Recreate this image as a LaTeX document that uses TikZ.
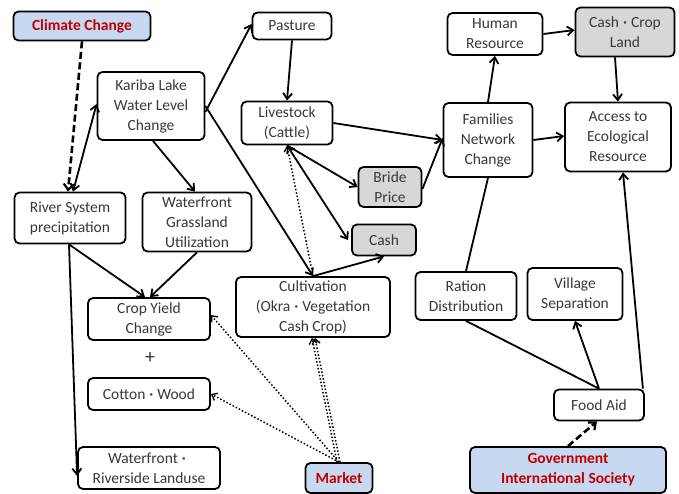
\documentclass[tikz,border=0pt]{standalone}
\usepackage{fontspec}
\setmainfont{Carlito}
\newfontfamily\cjk{Noto Sans CJK JP}
\newcommand{\kdot}{{\cjk\fontsize{12}{12}\selectfont ・}}
\usetikzlibrary{arrows.meta}
\definecolor{blueF}{RGB}{198,217,241}
\definecolor{grayF}{RGB}{215,215,215}
\definecolor{redT}{RGB}{192,0,0}
\tikzset{
  box/.style={draw=black, line width=1.8pt, rounded corners=5pt, fill=white, align=center, inner sep=0pt, font=\fontsize{15.5}{20}\selectfont, text=black!78},
  graybox/.style={box, fill=grayF},
  bluebox/.style={box, fill=blueF, text=redT, font=\fontsize{15.5}{20}\selectfont\bfseries},
  arr/.style={line width=1.8pt, -{Straight Barb[length=6pt,width=9pt,line width=1.8pt]}},
  darr/.style={arr, {Straight Barb[length=6pt,width=9pt,line width=1.8pt]}-{Straight Barb[length=6pt,width=9pt,line width=1.8pt]}},
  ln/.style={line width=1.8pt},
  dsh/.style={line width=2.6pt, dash pattern=on 7pt off 3.5pt, -{Straight Barb[length=6pt,width=10pt,line width=2.2pt]}},
  dot/.style={line width=1.5pt, dotted, -{Straight Barb[length=5pt,width=8pt,line width=1.3pt]}}
}
\begin{document}
\begin{tikzpicture}[x=1pt,y=-1pt]
\fill[white] (0,0) rectangle (679,494);
\useasboundingbox (0,0) rectangle (679,494);
% nodes
\node[bluebox, minimum width=137pt, minimum height=29pt] (cc) at (82,26) {Climate Change};
\node[box, minimum width=79pt, minimum height=27pt] (pas) at (292,26) {Pasture};
\node[box, minimum width=107pt, minimum height=68pt] (kar) at (151,106) {Kariba Lake\\Water Level\\Change};
\node[box, minimum width=91pt, minimum height=43pt] (liv) at (287,123) {Livestock\\(Cattle)};
\node[box, minimum width=95pt, minimum height=42pt] (hum) at (495,34) {Human\\Resource};
\node[graybox, minimum width=99pt, minimum height=49pt] (ccl) at (625,32) {Cash\kdot Crop\\Land};
\node[box, minimum width=89pt, minimum height=74pt] (fam) at (488,140) {Families\\Network\\Change};
\node[box, minimum width=106pt, minimum height=69pt] (acc) at (618,137) {Access to\\Ecological\\Resource};
\node[graybox, minimum width=63pt, minimum height=40pt] (bri) at (390,187) {Bride\\Price};
\node[graybox, minimum width=64pt, minimum height=31pt] (cash) at (384,240) {Cash};
\node[box, minimum width=111pt, minimum height=51pt] (riv) at (70,218) {River System\\precipitation};
\node[box, minimum width=109pt, minimum height=59pt] (wgu) at (197,222) {Waterfront\\Grassland\\Utilization};
\node[box, minimum width=122pt, minimum height=42pt] (cyc) at (149,319) {Crop Yield\\Change};
\node[font=\fontsize{20}{20}\selectfont, text=black!78] (plus) at (150,358) {+};
\node[box, minimum width=122pt, minimum height=32pt] (cot) at (149,394) {Cotton\kdot Wood};
\node[box, minimum width=142pt, minimum height=42pt] (wrl) at (149,468) {Waterfront\kdot\\Riverside Landuse};
\node[box, minimum width=154pt, minimum height=60pt] (cul) at (313,307) {Cultivation\\(Okra\kdot Vegetation\\Cash Crop)};
\node[bluebox, minimum width=67pt, minimum height=30pt] (mkt) at (339,478) {Market};
\node[box, minimum width=101pt, minimum height=48pt] (rat) at (466,296) {Ration\\Distribution};
\node[box, minimum width=95pt, minimum height=52pt] (vil) at (575,294) {Village\\Separation};
\node[box, minimum width=90pt, minimum height=31pt] (food) at (599,405) {Food Aid};
\node[bluebox, minimum width=196pt, minimum height=46pt] (gov) at (568,470) {Government\\International Society};
% edges
\draw[dsh] (cc.south) -- ([xshift=-2pt]riv.north);
\draw[darr] ([xshift=3pt]riv.north) -- ([yshift=2pt]kar.west);
\draw[arr] ([yshift=-6pt]kar.east) -- ([yshift=2pt]pas.west);
\draw[arr] (kar.east) -- (cul.north);
\draw[arr] ([xshift=2pt]kar.south) -- ([xshift=-2pt]wgu.north);
\draw[arr] (pas.south) -- (liv.north);
\draw[arr] (liv.east) -- (fam.west);
\draw[arr] (liv.south) -- (bri.west);
\draw[darr] (liv.south) -- ([xshift=-3pt]cash.west);
\draw[dot] (cul.north) -- (liv.south);
\draw[arr] (cul.north) -- (cash.south);
\draw[arr] ([yshift=-2pt]bri.east) -- ([yshift=2pt]fam.west);
\draw[arr] (fam.north) -- (hum.south);
\draw[arr] (hum.east) -- ([yshift=2pt]ccl.west);
\draw[arr] ([xshift=-10pt]ccl.south) -- (acc.north);
\draw[arr] (fam.east) -- ([yshift=1pt]acc.west);
\draw[ln] (rat.north) -- (fam.south);
\draw[ln] (food.north) -- (rat.south);
\draw[arr] (food.north) -- (vil.south);
\draw[arr] ([xshift=-2pt]food.north east) -- ([xshift=5pt]acc.south);
\draw[dsh] (gov.north) -- ([xshift=-2pt]food.south);
\draw[arr] ([xshift=-1pt]riv.south) -- ([xshift=-4pt]cyc.north);
\draw[arr] (wgu.south) -- ([xshift=1pt]cyc.north);
\draw[arr] ([xshift=-1pt]riv.south) -- ([yshift=-8pt]wrl.west);
\draw[dot] (mkt.north) -- ([yshift=4pt]cyc.east);
\draw[dot] (mkt.north) -- (cot.east);
\draw[dot] ([xshift=-2pt]mkt.north) -- ([xshift=-1pt]cul.south);
\draw[dot] ([xshift=1pt]mkt.north) -- ([xshift=2pt]cul.south);
\end{tikzpicture}
\end{document}
